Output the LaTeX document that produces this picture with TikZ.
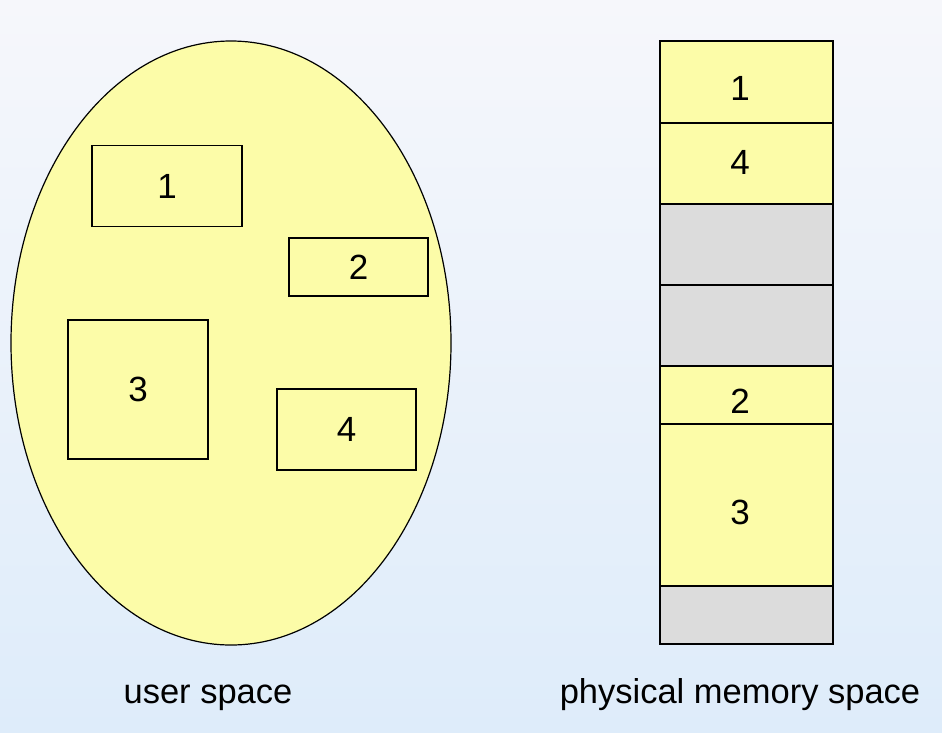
\documentclass[tikz,border=0pt]{standalone}
\usepackage{fontspec}
\setmainfont{Liberation Sans}
\usetikzlibrary{shapes.geometric}
\definecolor{bgtop}{RGB}{246,247,251}
\definecolor{bgbot}{RGB}{222,236,250}
\definecolor{segyellow}{RGB}{252,252,168}
\definecolor{seggray}{RGB}{220,220,220}
\tikzset{
  lbl/.style={font=\fontsize{34.5}{40}\selectfont, text=black},
  num/.style={font=\fontsize{35}{40}\selectfont, text=black, inner sep=0pt},
  ubox/.style={draw=black, line width=1.2pt, fill=segyellow, inner sep=0pt, font=\fontsize{35}{40}\selectfont},
  cell/.style={draw=black, line width=1.4pt, inner sep=0pt, minimum width=173pt},
  ycell/.style={cell, fill=segyellow},
  gcell/.style={cell, fill=seggray},
}
\begin{document}
\begin{tikzpicture}[x=1pt,y=-1pt]
\shade[top color=bgtop, bottom color=bgbot] (0,0) rectangle (942,732);
\useasboundingbox (0,0) rectangle (942,732);
% user space ellipse
\node[ellipse, draw=black, line width=1.2pt, fill=segyellow, minimum width=440pt, minimum height=604pt, inner sep=0pt] (us) at (231,343) {};
\node[ubox, minimum width=150pt, minimum height=81pt] (u1) at (167,186) {1};
\node[ubox, minimum width=139pt, minimum height=58pt] (u2) at (358.5,267) {2};
\node[ubox, minimum width=140pt, minimum height=139pt] (u3) at (138,389.5) {3};
\node[ubox, minimum width=139pt, minimum height=81pt] (u4) at (346.5,429.5) {4};
% physical memory column
\node[ycell, minimum height=82pt] (p1) at (746.5,82) {};
\node[ycell, minimum height=81pt] (p4) at (746.5,163.5) {};
\node[gcell, minimum height=81pt] (g1) at (746.5,244.5) {};
\node[gcell, minimum height=81pt] (g2) at (746.5,325.5) {};
\node[ycell, minimum height=58pt] (p2) at (746.5,395) {};
\node[ycell, minimum height=162pt] (p3) at (746.5,505) {};
\node[gcell, minimum height=58pt] (g3) at (746.5,615) {};
\node[num] (n1) at (740,88) {1};
\node[num] (n4) at (740,162) {4};
\node[num] (n2) at (740,401) {2};
\node[num] (n3) at (740,512) {3};
% captions
\node[lbl, anchor=base] (cap1) at (208,703) {user space};
\node[lbl, anchor=base] (cap2) at (740,703) {physical memory space};
\end{tikzpicture}
\end{document}
